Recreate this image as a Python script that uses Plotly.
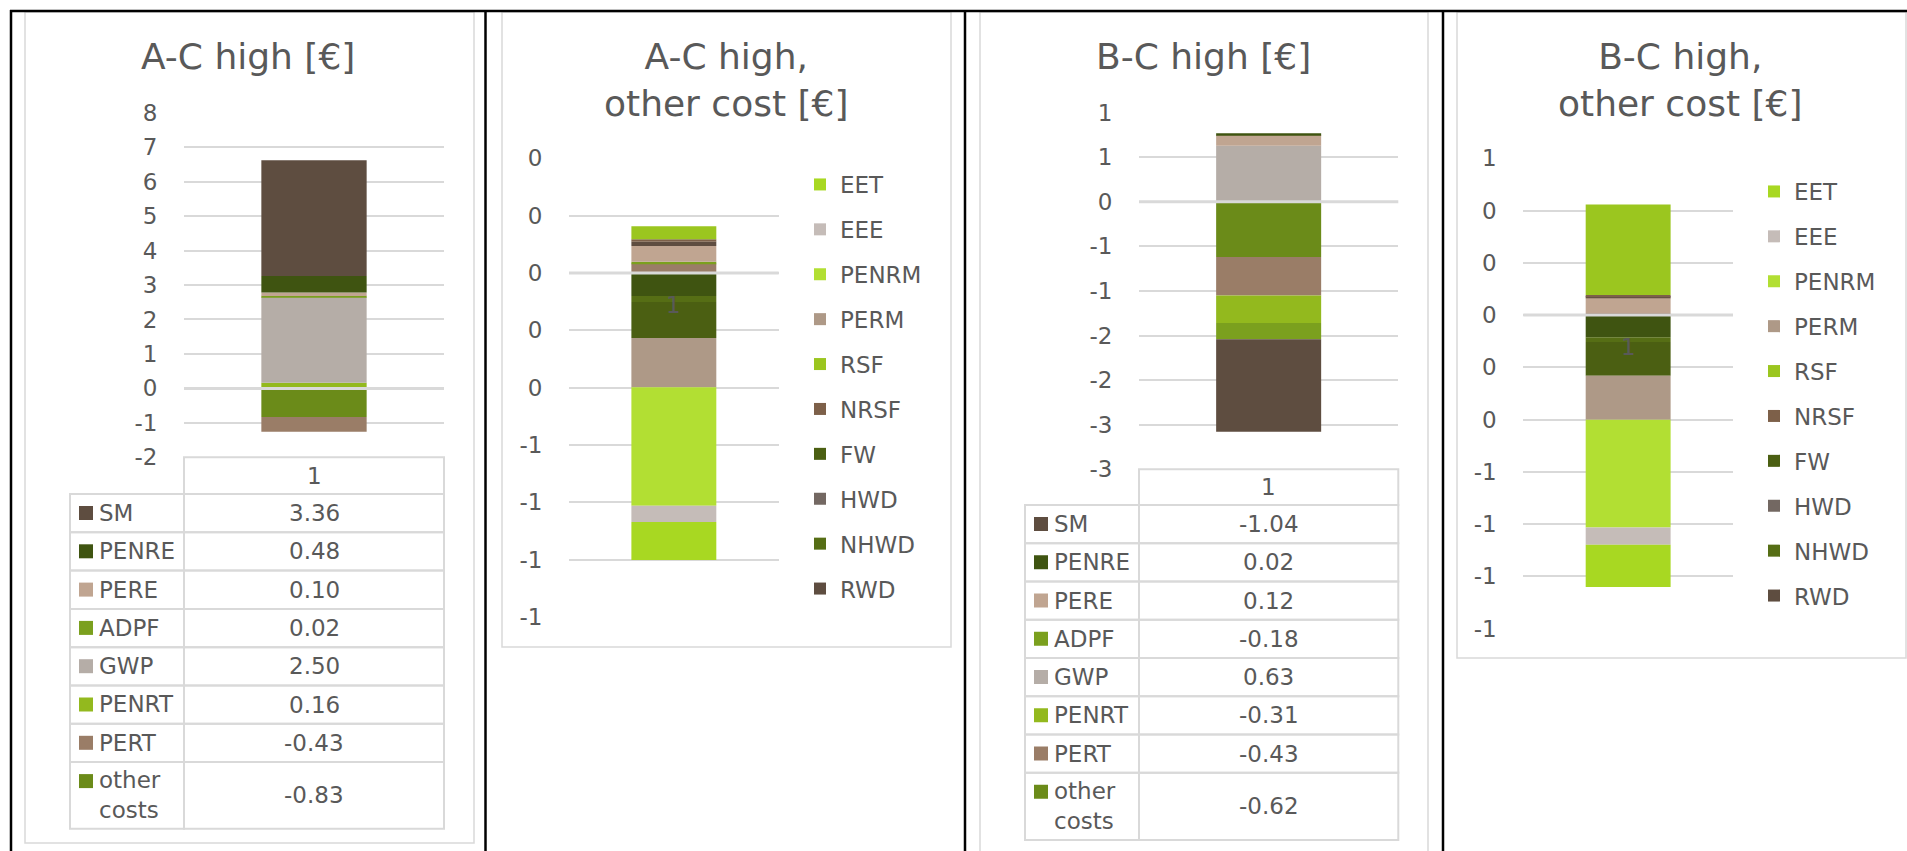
import plotly.graph_objects as go

# ---------------- data ----------------
categories = ["1"]

main_names = ["SM", "PENRE", "PERE", "ADPF", "GWP", "PENRT", "PERT", "other costs"]
main_colors = ["#5E4D40", "#3F5411", "#C0A591", "#7BA01E", "#B5ADA7", "#93B91E", "#9A7D67", "#6B8B19"]
ac_high = [3.36, 0.48, 0.10, 0.02, 2.50, 0.16, -0.43, -0.83]
bc_high = [-1.04, 0.02, 0.12, -0.18, 0.63, -0.31, -0.43, -0.62]

other_names = ["EET", "EEE", "PENRM", "PERM", "RSF", "NRSF", "FW", "HWD", "NHWD", "RWD"]
other_colors = ["#A8D822", "#C5BCB8", "#B2DF33", "#AE9987", "#9BC61F", "#7D6049", "#4B5F12", "#736862", "#566E15", "#5E4D40"]
ac_other = [-0.132, -0.057, -0.413, -0.172, 0.045, 0.009, -0.126, 0.0, -0.021, 0.015]
bc_other = [-0.161, -0.066, -0.413, -0.168, 0.346, 0.006, -0.129, 0.0, -0.018, 0.006]

# series stacked first in the "other cost" charts (no legend entry)
base_names = ["PERT", "ADPF", "PERE", "PENRE"]
base_colors = ["#9A7D67", "#7BA01E", "#C0A591", "#3F5411"]
ac_other_base = [0.033, 0.006, 0.055, -0.080]
bc_other_base = [0.008, 0.0, 0.057, -0.085]

ticks_ac = [8, 7, 6, 5, 4, 3, 2, 1, 0, -1, -2]
labels_ac = ["8", "7", "6", "5", "4", "3", "2", "1", "0", "-1", "-2"]
ticks_ac_other = [0.4, 0.2, 0, -0.2, -0.4, -0.6, -0.8, -1.0, -1.2]
labels_ac_other = ["0", "0", "0", "0", "0", "-1", "-1", "-1", "-1"]
ticks_bc = [1, 0.5, 0, -0.5, -1, -1.5, -2, -2.5, -3]
labels_bc = ["1", "1", "0", "-1", "-1", "-2", "-2", "-3", "-3"]
ticks_bc_other = [0.6, 0.4, 0.2, 0, -0.2, -0.4, -0.6, -0.8, -1.0, -1.2]
labels_bc_other = ["1", "0", "0", "0", "0", "0", "-1", "-1", "-1", "-1"]

titles = ["A-C high [€]", "A-C high,<br>other cost [€]", "B-C high [€]", "B-C high,<br>other cost [€]"]

# ---------------- layout helpers ----------------
W, H = 1907, 851
def px(x):
    return x / W
def py(y):
    return 1 - y / H

FONT = "DejaVu Sans"
GREY = "#595959"
LINE = "#D9D9D9"

fig = go.Figure()

def ax(k, kind):
    return kind if k == 1 else f"{kind}{k}"

def add_bar(k, name, val, color, show=False, legend=None, rank=1000):
    kw = dict(legend=legend) if legend else {}
    fig.add_trace(go.Bar(
        x=categories, y=[val], name=name,
        marker=dict(color=color, line=dict(width=0)),
        width=0.405, xaxis=ax(k, "x"), yaxis=ax(k, "y"),
        showlegend=show, legendgroup=f"{name}_{k}", legendrank=rank, **kw))

# panel 1 and 3: main indicators (stacked in reverse table order)
for k, vals in ((1, ac_high), (3, bc_high)):
    for i in reversed(range(len(main_names))):
        add_bar(k, main_names[i], vals[i], main_colors[i])

# panel 2 and 4: other cost indicators
for k, base_vals, vals, leg in ((2, ac_other_base, ac_other, "legend"), (4, bc_other_base, bc_other, "legend2")):
    for i in range(len(base_names)):
        if base_vals[i] != 0:
            add_bar(k, base_names[i], base_vals[i], base_colors[i])
    for i in reversed(range(len(other_names))):
        add_bar(k, other_names[i], vals[i], other_colors[i], show=True, legend=leg, rank=i + 1)

panels = [
    dict(x0=184, x1=444, top=112.7, bot=457.3, rng=[-2, 8], tv=ticks_ac, tt=labels_ac),
    dict(x0=569, x1=778.7, top=158.3, bot=617, rng=[-1.2, 0.4], tv=ticks_ac_other, tt=labels_ac_other),
    dict(x0=1139, x1=1398.3, top=112.7, bot=469.3, rng=[-3, 1], tv=ticks_bc, tt=labels_bc),
    dict(x0=1523.3, x1=1733, top=158.3, bot=628.7, rng=[-1.2, 0.6], tv=ticks_bc_other, tt=labels_bc_other),
]

layout = dict(
    width=W, height=H, margin=dict(l=0, r=0, t=0, b=0, pad=0, autoexpand=False),
    paper_bgcolor="white", plot_bgcolor="white",
    barmode="relative",
    font=dict(family=FONT, color=GREY, size=23),
    showlegend=True,
)
shapes = []
annotations = []

for k, p in enumerate(panels, start=1):
    xname = "xaxis" if k == 1 else f"xaxis{k}"
    yname = "yaxis" if k == 1 else f"yaxis{k}"
    layout[xname] = dict(domain=[px(p["x0"]), px(p["x1"])], anchor=ax(k, "y"), type="category",
                         range=[-0.5, 0.5], showgrid=False, showticklabels=False, zeroline=False,
                         showline=False, fixedrange=True, automargin=False)
    layout[yname] = dict(domain=[py(p["bot"]), py(p["top"])], anchor=ax(k, "x"), range=p["rng"],
                         tickmode="array", tickvals=p["tv"], ticktext=p["tt"],
                         showgrid=True, gridcolor=LINE, gridwidth=1.5, zeroline=False, showline=False,
                         ticks="outside", ticklen=21, tickcolor="rgba(0,0,0,0)", automargin=False,
                         tickfont=dict(size=23, color=GREY, family=FONT), fixedrange=True)
    # axis line at zero drawn over the bars
    shapes.append(dict(type="line", xref=f"{ax(k, 'x')} domain", yref=ax(k, "y"), x0=0, x1=1, y0=0, y1=0,
                       line=dict(color=LINE, width=3), layer="above"))

# category labels sitting on the zero axis of the "other cost" charts
for k in (2, 4):
    annotations.append(dict(xref=f"{ax(k, 'x')} domain", yref=ax(k, "y"), x=0.5, y=0, yshift=-32,
                            xanchor="center", yanchor="middle",
                            text=categories[0], showarrow=False, font=dict(size=23, color=GREY, family=FONT)))

# titles
for text, (tx, ty) in zip(titles, [(248, 57), (726, 80), (1203, 57), (1680, 80)]):
    annotations.append(dict(xref="paper", yref="paper", x=px(tx), y=py(ty), xanchor="center", yanchor="middle",
                            text=text, showarrow=False, font=dict(size=36, color=GREY, family=FONT)))

# chart area borders
for (x0, y0, x1, y1) in [(25, 12, 474, 843), (502, 12, 951, 647), (980, 12, 1428, 880), (1457, 12, 1906, 658)]:
    shapes.append(dict(type="rect", xref="paper", yref="paper", x0=px(x0), x1=px(x1), y0=py(y0), y1=py(y1),
                       line=dict(color=LINE, width=1.5), fillcolor="rgba(0,0,0,0)", layer="below"))

# document frame
shapes.append(dict(type="line", xref="paper", yref="paper", x0=px(10), x1=1, y0=py(11), y1=py(11),
                   line=dict(color="black", width=2.5)))
for xv in (11, 485.5, 965, 1443):
    shapes.append(dict(type="line", xref="paper", yref="paper", x0=px(xv), x1=px(xv), y0=py(10), y1=0,
                       line=dict(color="black", width=2.5)))

# data tables under panels 1 and 3
def draw_table(values, xl, xv, xr, top, head_h, row_h, last_h):
    def rect(x0, y0, x1, y1, fill=None, lw=2):
        shapes.append(dict(type="rect", xref="paper", yref="paper", x0=px(x0), x1=px(x1), y0=py(y0), y1=py(y1),
                           line=dict(color=LINE if fill is None else fill, width=lw if fill is None else 0),
                           fillcolor=fill if fill else "rgba(0,0,0,0)"))
    rect(xv, top, xr, top + head_h)
    annotations.append(dict(xref="paper", yref="paper", x=px((xv + xr) / 2), y=py(top + head_h / 2),
                            xanchor="center", yanchor="middle", text=categories[0], showarrow=False,
                            font=dict(size=23, color=GREY, family=FONT)))
    y = top + head_h
    n = len(main_names)
    for i, name in enumerate(main_names):
        h = last_h if i == n - 1 else row_h
        rect(xl, y, xv, y + h)
        rect(xv, y, xr, y + h)
        rect(xl + 9, y + 12, xl + 23, y + 26, fill=main_colors[i])
        multi = " " in name
        annotations.append(dict(xref="paper", yref="paper", x=px(xl + 27), y=py(y + (h / 2 if multi else 19)),
                                xanchor="left", yanchor="middle", align="left",
                                text=name.replace(" ", "<br>"), showarrow=False,
                                font=dict(size=23, color=GREY, family=FONT)))
        annotations.append(dict(xref="paper", yref="paper", x=px((xv + xr) / 2), y=py(y + h / 2),
                                xanchor="center", yanchor="middle", text=f"{values[i]:.2f}", showarrow=False,
                                font=dict(size=23, color=GREY, family=FONT)))
        y += h

draw_table(ac_high, 70, 184, 444, 457.3, 36.7, 38.3, 66.7)
draw_table(bc_high, 1025, 1139, 1398.3, 469.3, 35.7, 38.25, 67.3)

leg_common = dict(xanchor="left", yanchor="top", traceorder="grouped", tracegroupgap=12,
                  bgcolor="rgba(0,0,0,0)", borderwidth=0,
                  font=dict(size=23, color=GREY, family=FONT))
layout["legend"] = dict(x=px(800), y=py(163), **leg_common)
layout["legend2"] = dict(x=px(1754), y=py(170), **leg_common)

layout["shapes"] = shapes
layout["annotations"] = annotations
fig.update_layout(**layout)

fig.write_html("out.html", config={"displayModeBar": False},
               post_script="document.body.style.margin='0px';document.body.style.overflow='hidden';")
